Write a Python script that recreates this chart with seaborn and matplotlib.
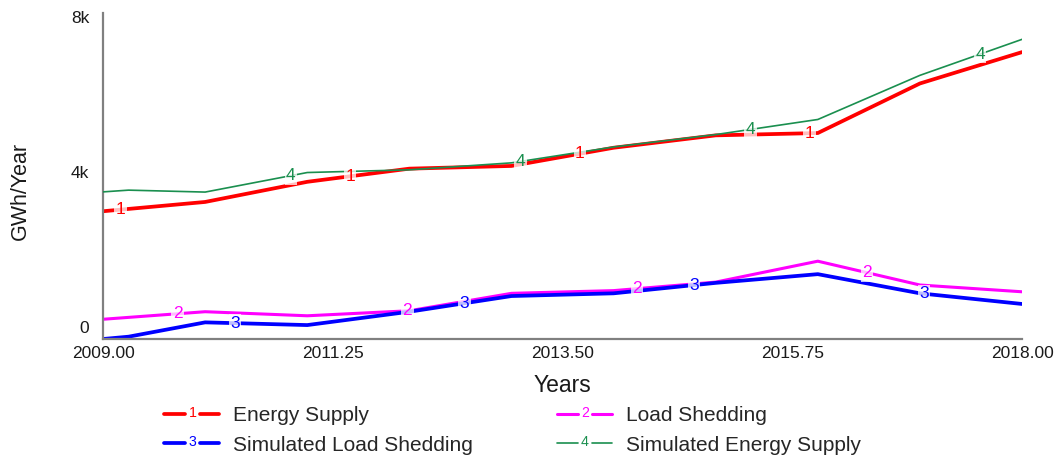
import matplotlib
matplotlib.use("Agg")
import matplotlib.pyplot as plt
import numpy as np
import pandas as pd
import seaborn as sns
from matplotlib.legend_handler import HandlerBase
from matplotlib.lines import Line2D
from matplotlib.text import Text
from matplotlib.ticker import FixedLocator, FuncFormatter

YEARS = [2009, 2010, 2011, 2012, 2013, 2014, 2015, 2016, 2017, 2018]
YEARS_SIM = [2009, 2009.25, 2010, 2011, 2012, 2013, 2014, 2015, 2016, 2017, 2018]

ENERGY_SUPPLY = [2990, 3230, 3750, 4090, 4160, 4630, 4950, 5010, 6290, 7100]
LOAD_SHEDDING = [200, 395, 290, 420, 870, 940, 1160, 1700, 1085, 910]
SIM_LOAD_SHEDDING = [-310, -250, 120, 50, 395, 800, 870, 1140, 1365, 870, 595]
SIM_ENERGY_SUPPLY = [3490, 3535, 3485, 3990, 4060, 4240, 4650, 4970, 5360, 6500, 7430]

X_TICKS = [2009.0, 2011.25, 2013.5, 2015.75, 2018.0]
Y_TICKS = [0, 4000, 8000]

SERIES = [
    # name, number, x, y, colour, linewidth, first label position
    ("Energy Supply", "1", YEARS, ENERGY_SUPPLY, "#FF0000", 2.7, 2009.17),
    ("Load Shedding", "2", YEARS, LOAD_SHEDDING, "#FF00FF", 2.2, 2009.73),
    ("Simulated Load Shedding", "3", YEARS_SIM, SIM_LOAD_SHEDDING, "#0000FF", 2.7, 2010.29),
    ("Simulated Energy Supply", "4", YEARS_SIM, SIM_ENERGY_SUPPLY, "#1A8F4F", 1.2, 2010.84),
]
LABEL_STEP = 2.25


class NumberedLine(HandlerBase):
    def __init__(self, number, color, lw):
        super().__init__()
        self.number = number
        self.color = color
        self.lw = lw

    def create_artists(self, legend, orig_handle, xdescent, ydescent,
                       width, height, fontsize, trans):
        y = height / 2 - ydescent
        x0 = -xdescent
        left = Line2D([x0, x0 + width * 0.38], [y, y], color=self.color, lw=self.lw)
        right = Line2D([x0 + width * 0.64, x0 + width], [y, y], color=self.color, lw=self.lw)
        num = Text(x0 + width * 0.51, y + 1, self.number, color=self.color,
                   fontsize=fontsize * 0.68, ha="center", va="center",
                   fontfamily=["Liberation Sans", "DejaVu Sans"])
        for a in (left, right, num):
            a.set_transform(trans)
        return [left, num, right]


def main():
    sns.set_theme(style="white")
    plt.rcParams["font.family"] = ["Liberation Sans", "DejaVu Sans"]

    fig = plt.figure(figsize=(10.59, 4.58), dpi=100)
    ax = fig.add_axes([0.0973, 0.2598, 0.8678, 0.7118])

    for name, num, xs, ys, color, lw, start in SERIES:
        df = pd.DataFrame({"year": xs, "value": ys})
        sns.lineplot(data=df, x="year", y="value", color=color, linewidth=lw,
                     ax=ax, legend=False, zorder=3 if num == "4" else 2)

    # numbered labels along each line
    for name, num, xs, ys, color, lw, start in SERIES:
        pos = start
        while pos < 2018:
            yv = np.interp(pos, xs, ys)
            ax.text(pos, yv, num, color=color, fontsize=12.5, ha="center", va="center",
                    zorder=4,
                    bbox={"boxstyle": "square,pad=0.08", "facecolor": "white",
                          "edgecolor": "none", "alpha": 0.75})
            pos += LABEL_STEP

    ax.set_xlim(2009, 2018)
    ax.set_ylim(-310, 8110)
    ax.xaxis.set_major_locator(FixedLocator(X_TICKS))
    ax.yaxis.set_major_locator(FixedLocator(Y_TICKS))
    ax.xaxis.set_major_formatter(FuncFormatter(lambda v, p: f"{v:.2f}"))
    ax.yaxis.set_major_formatter(FuncFormatter(lambda v, p: "0" if v == 0 else f"{v / 1000:.0f}k"))
    ax.tick_params(axis="both", length=0, labelsize=12.5, colors="#1a1a1a")
    ax.tick_params(axis="x", pad=5)
    ax.tick_params(axis="y", pad=10)

    for side in ("top", "right"):
        ax.spines[side].set_visible(False)
    for side in ("left", "bottom"):
        ax.spines[side].set_color("#808080")
        ax.spines[side].set_linewidth(1.6)

    ax.set_xlabel("Years", fontsize=16.5, color="#1a1a1a")
    ax.set_ylabel("GWh/Year", fontsize=15.5, color="#1a1a1a")
    ax.xaxis.set_label_coords(0.5, -0.108)
    ax.yaxis.set_label_coords(-0.079, 0.455)

    handles, labels, hmap = [], [], {}
    order = [0, 2, 1, 3]
    for i in order:
        name, num, xs, ys, color, lw, start = SERIES[i]
        h = Line2D([], [], color=color)
        handles.append(h)
        labels.append(name)
        hmap[h] = NumberedLine(num, color, lw)
    fig.legend(handles, labels, handler_map=hmap, ncol=2, loc="center",
               bbox_to_anchor=(0.484, 0.06), frameon=False, fontsize=15,
               handlelength=2.65, handletextpad=0.67, columnspacing=4.0,
               labelspacing=0.5)

    fig.savefig("out.png", dpi=100)


if __name__ == "__main__":
    main()
